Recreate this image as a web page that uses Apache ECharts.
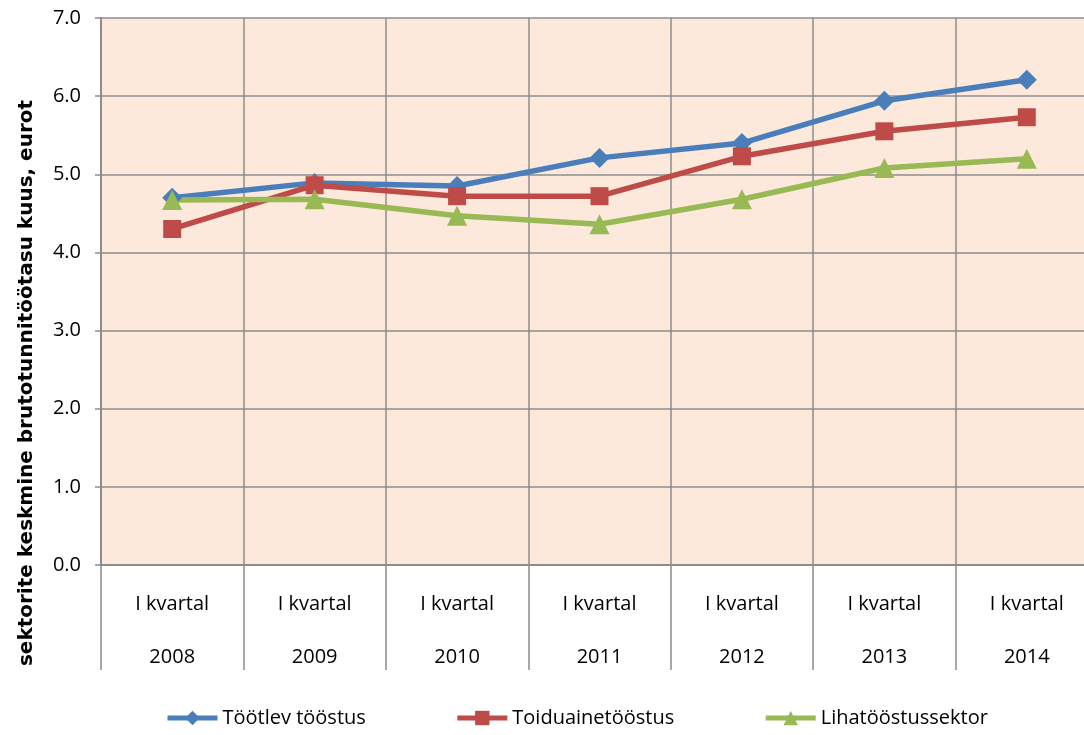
<!DOCTYPE html>
<html>
<head>
<meta charset="utf-8">
<script src="https://cdn.jsdelivr.net/npm/echarts@6/dist/echarts.min.js"></script>
<style>
  html, body { margin: 0; padding: 0; background: #fff; }
  #chart { width: 1084px; height: 735px; }
</style>
</head>
<body>
<div id="chart"></div>
<script>
// andmed
const years = ['2008', '2009', '2010', '2011', '2012', '2013', '2014']
const quarterLabel = 'I kvartal'
const tootlev = [4.70, 4.89, 4.85, 5.21, 5.40, 5.94, 6.21]
const toiduaine = [4.30, 4.86, 4.72, 4.72, 5.23, 5.55, 5.73]
const liha = [4.67, 4.68, 4.47, 4.36, 4.68, 5.08, 5.20]
const yTicks = [0, 1, 2, 3, 4, 5, 6, 7]

const font = '"Open Sans", sans-serif'
const gridColor = '#8c8c8c'

const chart = echarts.init(document.getElementById('chart'))

function lineSeries(name, data, color, symbol, size) {
  return {
    name,
    type: 'line',
    data,
    symbol,
    symbolSize: size,
    lineStyle: { width: 5.5, color },
    itemStyle: { color },
    z: 3,
  }
}

chart.setOption({
  animation: false,
  textStyle: { fontFamily: font },
  graphic: [
    {
      type: 'text',
      x: 27,
      y: 383,
      rotation: Math.PI / 2,
      style: {
        text: 'sektorite keskmine brutotunnitöötasu kuus, eurot',
        font: 'bold 20px "DejaVu Sans", sans-serif',
        fill: '#000',
        textAlign: 'center',
        textVerticalAlign: 'middle',
      },
    },
  ],
  grid: {
    left: 101,
    top: 18,
    width: 997,
    bottom: 170,
    containLabel: false,
    outerBoundsMode: 'none',
    show: true,
    backgroundColor: '#fce9dc',
    borderWidth: 0,
  },
  legend: {
    bottom: 2,
    left: 160,
    itemGap: 89,
    itemWidth: 50,
    itemHeight: 18,
    lineStyle: { width: 5 },
    textStyle: { fontSize: 20, color: '#000', fontFamily: font },
    data: ['Töötlev tööstus', 'Toiduainetööstus', 'Lihatööstussektor'],
  },
  xAxis: {
    type: 'category',
    data: years,
    boundaryGap: true,
    axisLine: { lineStyle: { color: gridColor, width: 2 } },
    axisTick: { show: true, length: 105, lineStyle: { color: gridColor, width: 1.5 } },
    splitLine: { show: true, lineStyle: { color: gridColor, width: 1.5 } },
    axisLabel: {
      margin: 13,
      fontSize: 20,
      lineHeight: 53,
      color: '#000',
      fontFamily: font,
      formatter: (v) => quarterLabel + '\n' + v,
    },
  },
  yAxis: {
    type: 'value',
    min: yTicks[0],
    max: yTicks[yTicks.length - 1],
    interval: 1,
    axisLine: { show: true, lineStyle: { color: gridColor, width: 2 } },
    axisTick: { show: true, length: 6, lineStyle: { color: gridColor, width: 1.5 } },
    splitLine: { show: true, lineStyle: { color: gridColor, width: 1.5 } },
    axisLabel: {
      margin: 20,
      fontSize: 20,
      color: '#000',
      fontFamily: font,
      formatter: (v) => v.toFixed(1),
    },
  },
  series: [
    lineSeries('Töötlev tööstus', tootlev, '#4a7ebb', 'diamond', 20),
    lineSeries('Toiduainetööstus', toiduaine, '#be4b48', 'rect', 18),
    lineSeries('Lihatööstussektor', liha, '#98b954', 'triangle', 20),
  ],
})
</script>
</body>
</html>
